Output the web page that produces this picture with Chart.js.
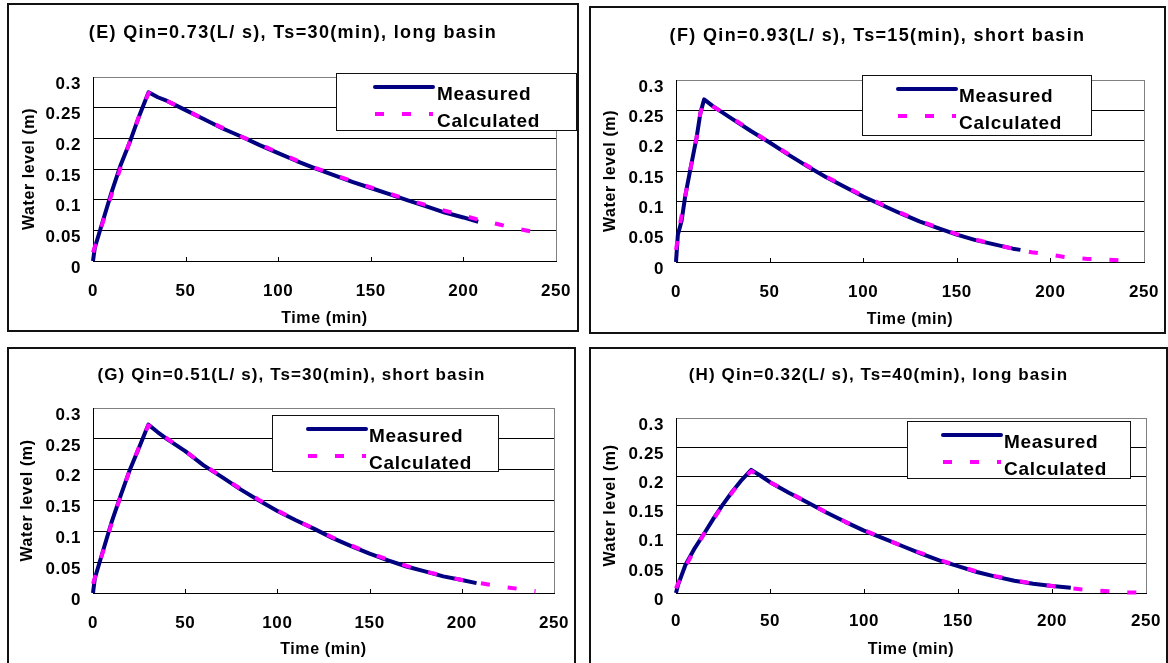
<!DOCTYPE html>
<html>
<head>
<meta charset="utf-8">
<title>Water level: measured vs calculated</title>
<script src="https://cdn.jsdelivr.net/npm/chart.js@4.4.1/dist/chart.umd.min.js"></script>
<style>
  body { margin: 0; background: #fff; width: 1168px; height: 663px; overflow: hidden; position: relative; }
  .panel { position: absolute; box-sizing: border-box; border: 2px solid #111; background: #fff; }
  .panel canvas { display: block; }
</style>
</head>
<body>
<div class="panel" style="left:7px;top:3px;width:572px;height:329px"><canvas id="chartE"></canvas></div>
<div class="panel" style="left:589px;top:6px;width:577px;height:328px"><canvas id="chartF"></canvas></div>
<div class="panel" style="left:7px;top:347px;width:569px;height:318px"><canvas id="chartG"></canvas></div>
<div class="panel" style="left:589px;top:347px;width:579px;height:318px"><canvas id="chartH"></canvas></div>

<script>
const xTicks = [0, 50, 100, 150, 200, 250];
const yTicks = [0, 0.05, 0.1, 0.15, 0.2, 0.25, 0.3];
const yTickLabels = ['0', '0.05', '0.1', '0.15', '0.2', '0.25', '0.3'];
const seriesNames = ['Measured', 'Calculated'];
const xTitle = 'Time (min)';
const yTitle = 'Water level (m)';

// (E) long basin, Qin = 0.73 L/s, Ts = 30 min
const titleE = '(E) Qin=0.73(L/ s), Ts=30(min), long basin';
const timeMeasE = [0, 1, 5, 10, 15, 20, 25, 30, 35, 40, 50, 60, 70, 80, 90, 100, 110, 120, 130, 140, 150, 160, 170, 180, 190, 200, 208];
const levelMeasE = [0, 0.022, 0.062, 0.112, 0.157, 0.195, 0.237, 0.275, 0.267, 0.261, 0.246, 0.231, 0.216, 0.203, 0.189, 0.176, 0.163, 0.151, 0.140, 0.129, 0.119, 0.109, 0.099, 0.089, 0.079, 0.071, 0.064];
const timeCalcE = [0, 5, 10, 15, 20, 25, 30, 40, 50, 60, 70, 80, 90, 100, 110, 120, 130, 140, 150, 160, 170, 180, 190, 200, 210, 220, 230, 240];
const levelCalcE = [0.014, 0.060, 0.108, 0.153, 0.196, 0.237, 0.274, 0.261, 0.246, 0.231, 0.217, 0.203, 0.190, 0.177, 0.164, 0.152, 0.141, 0.130, 0.120, 0.110, 0.100, 0.091, 0.082, 0.074, 0.066, 0.059, 0.052, 0.046];

// (F) short basin, Qin = 0.93 L/s, Ts = 15 min
const titleF = '(F) Qin=0.93(L/ s), Ts=15(min), short basin';
const timeMeasF = [0, 1, 3, 5, 8, 11, 13, 15, 20, 30, 40, 50, 60, 70, 80, 90, 100, 110, 120, 130, 140, 150, 160, 170, 180, 184];
const levelMeasF = [0, 0.045, 0.068, 0.110, 0.158, 0.205, 0.245, 0.268, 0.256, 0.236, 0.216, 0.197, 0.177, 0.158, 0.140, 0.124, 0.108, 0.094, 0.080, 0.067, 0.056, 0.045, 0.036, 0.029, 0.022, 0.020];
const timeCalcF = [0, 2, 5, 8, 11, 13, 15, 20, 30, 40, 50, 60, 70, 80, 90, 100, 110, 120, 130, 140, 150, 160, 170, 180, 190, 200, 210, 220, 230, 240, 245];
const levelCalcF = [0.020, 0.060, 0.110, 0.158, 0.205, 0.245, 0.266, 0.256, 0.237, 0.217, 0.197, 0.178, 0.159, 0.141, 0.125, 0.109, 0.095, 0.081, 0.068, 0.057, 0.046, 0.037, 0.029, 0.022, 0.016, 0.012, 0.007, 0.005, 0.004, 0.002, 0.001];

// (G) short basin, Qin = 0.51 L/s, Ts = 30 min
const titleG = '(G) Qin=0.51(L/ s), Ts=30(min), short basin';
const timeMeasG = [0, 1, 5, 10, 15, 20, 25, 30, 35, 40, 50, 60, 70, 80, 90, 100, 110, 120, 130, 140, 150, 160, 170, 180, 190, 200, 208];
const levelMeasG = [0, 0.024, 0.064, 0.114, 0.158, 0.200, 0.236, 0.273, 0.261, 0.250, 0.230, 0.207, 0.188, 0.168, 0.150, 0.133, 0.118, 0.104, 0.089, 0.076, 0.064, 0.053, 0.043, 0.035, 0.027, 0.021, 0.016];
const timeCalcG = [0, 5, 10, 15, 20, 25, 30, 40, 50, 60, 70, 80, 90, 100, 110, 120, 130, 140, 150, 160, 170, 180, 190, 200, 210, 220, 230, 240];
const levelCalcG = [0.015, 0.063, 0.112, 0.157, 0.200, 0.237, 0.272, 0.251, 0.230, 0.208, 0.188, 0.169, 0.151, 0.134, 0.118, 0.104, 0.090, 0.077, 0.065, 0.054, 0.044, 0.035, 0.028, 0.021, 0.016, 0.011, 0.007, 0.003];

// (H) long basin, Qin = 0.32 L/s, Ts = 40 min
const titleH = '(H) Qin=0.32(L/ s), Ts=40(min), long basin';
const timeMeasH = [0, 1, 5, 10, 15, 20, 25, 30, 35, 40, 45, 50, 60, 70, 80, 90, 100, 110, 120, 130, 140, 150, 160, 170, 180, 190, 200, 210];
const levelMeasH = [0, 0.013, 0.048, 0.077, 0.102, 0.128, 0.152, 0.174, 0.194, 0.211, 0.201, 0.190, 0.172, 0.155, 0.138, 0.122, 0.107, 0.094, 0.081, 0.068, 0.056, 0.046, 0.036, 0.028, 0.021, 0.016, 0.012, 0.009];
const timeCalcH = [0, 5, 10, 15, 20, 25, 30, 35, 40, 50, 60, 70, 80, 90, 100, 110, 120, 130, 140, 150, 160, 170, 180, 190, 200, 210, 220, 230, 240, 245];
const levelCalcH = [0.008, 0.045, 0.075, 0.102, 0.127, 0.151, 0.173, 0.193, 0.209, 0.190, 0.173, 0.155, 0.138, 0.122, 0.108, 0.094, 0.081, 0.069, 0.057, 0.046, 0.037, 0.029, 0.022, 0.016, 0.012, 0.008, 0.005, 0.003, 0.001, 0.001];

const FONT = '"Liberation Sans", Arial, sans-serif';
Chart.defaults.font.family = FONT;
Chart.defaults.color = '#000';

// layout of each panel inside its canvas
const panels = [
  { id: 'chartE', w: 568, h: 325, yW: 84, padTop: 72, padRight: 21, xH: 69, xPad: 20, xTitlePad: 1.4, yTitlePad: 10.9,
    title: titleE, titleY: 28, titleSize: 18, titleSpacing: 1.35,
    legend: { x: 327, y: 68, w: 241, h: 58, sx: 39, tx: 101 },
    tMeas: timeMeasE, vMeas: levelMeasE, tCalc: timeCalcE, vCalc: levelCalcE },
  { id: 'chartF', w: 573, h: 324, yW: 85, padTop: 72, padRight: 20, xH: 70, xPad: 20, xTitlePad: 2.4, yTitlePad: 10.4,
    title: titleF, titleY: 28, titleSize: 18, titleSpacing: 1.35,
    legend: { x: 271, y: 67, w: 230, h: 61, sx: 36, tx: 97 },
    tMeas: timeMeasF, vMeas: levelMeasF, tCalc: timeCalcF, vCalc: levelCalcF },
  { id: 'chartG', w: 565, h: 314, yW: 84, padTop: 59, padRight: 20, xH: 70, xPad: 20, xTitlePad: 3.4, yTitlePad: 9.4,
    title: titleG, titleY: 26, titleSize: 17, titleSpacing: 1.1,
    legend: { x: 263, y: 66, w: 227, h: 57, sx: 36, tx: 97 },
    tMeas: timeMeasG, vMeas: levelMeasG, tCalc: timeCalcG, vCalc: levelCalcG },
  { id: 'chartH', w: 575, h: 314, yW: 85, padTop: 69, padRight: 20, xH: 70, xPad: 18.5, xTitlePad: 3.4, yTitlePad: 10.4,
    title: titleH, titleY: 26, titleSize: 17, titleSpacing: 1.1,
    legend: { x: 316, y: 72, w: 224, h: 58, sx: 36, tx: 97 },
    tMeas: timeMeasH, vMeas: levelMeasH, tCalc: timeCalcH, vCalc: levelCalcH }
];

const toPoints = (ts, vs) => ts.map((t, i) => ({ x: t, y: vs[i] }));

// heading, legend box, grey right frame and the little inside ticks on the time axis
const panelDeco = {
  id: 'panelDeco',
  beforeDraw(chart) {
    chart.ctx.letterSpacing = '0.6px';
  },
  afterDraw(chart, args, opts) {
    const { ctx, chartArea: a } = chart;
    const xs = chart.scales.x;
    ctx.save();
    ctx.lineWidth = 1;
    ctx.strokeStyle = '#808080';
    const rx = Math.round(a.right) + 0.5;
    ctx.beginPath();
    ctx.moveTo(rx, Math.round(a.top));
    ctx.lineTo(rx, Math.round(a.bottom));
    ctx.stroke();

    ctx.strokeStyle = '#000';
    xTicks.slice(1, -1).forEach(v => {
      const px = Math.round(xs.getPixelForValue(v)) + 0.5;
      ctx.beginPath();
      ctx.moveTo(px, a.bottom);
      ctx.lineTo(px, a.bottom - 4);
      ctx.stroke();
    });

    ctx.fillStyle = '#000';
    ctx.font = `bold ${opts.titleSize}px ${FONT}`;
    ctx.letterSpacing = opts.titleSpacing + 'px';
    ctx.textAlign = 'center';
    ctx.textBaseline = 'middle';
    ctx.fillText(opts.title, chart.width / 2, opts.titleY);

    const L = opts.legend;
    ctx.fillStyle = '#fff';
    ctx.fillRect(L.x, L.y, L.w, L.h);
    ctx.strokeStyle = '#111';
    ctx.strokeRect(L.x + 0.5, L.y + 0.5, L.w - 1, L.h - 1);
    ctx.font = `bold 19px ${FONT}`;
    ctx.letterSpacing = '0.7px';
    ctx.textAlign = 'left';
    chart.data.datasets.forEach((ds, i) => {
      const ly = L.y + 14 + i * 27;
      ctx.strokeStyle = ds.borderColor;
      ctx.lineWidth = ds.borderWidth;
      ctx.setLineDash(ds.borderDash || []);
      ctx.lineCap = ds.borderDash ? 'butt' : 'round';
      ctx.beginPath();
      ctx.moveTo(L.x + L.sx, ly);
      ctx.lineTo(L.x + L.sx + 58, ly);
      ctx.stroke();
      ctx.setLineDash([]);
      ctx.fillStyle = '#000';
      ctx.fillText(ds.label, L.x + L.tx, ly + 8);
    });
    ctx.restore();
  }
};

function buildChart(p) {
  const canvas = document.getElementById(p.id);
  canvas.width = p.w;
  canvas.height = p.h;
  new Chart(canvas, {
    type: 'line',
    data: {
      datasets: [
        { label: seriesNames[0], data: toPoints(p.tMeas, p.vMeas), borderColor: '#000080', borderWidth: 4, order: 1 },
        { label: seriesNames[1], data: toPoints(p.tCalc, p.vCalc), borderColor: '#ff00ff', borderWidth: 4,
          borderDash: [9, 18], borderCapStyle: 'butt', order: 0 }
      ]
    },
    options: {
      responsive: false,
      devicePixelRatio: 1,
      animation: false,
      events: [],
      clip: false,
      elements: {
        point: { radius: 0 },
        line: { tension: 0, borderJoinStyle: 'round', fill: false }
      },
      layout: { padding: { top: p.padTop, right: p.padRight, bottom: 0, left: 0 } },
      plugins: {
        legend: { display: false },
        tooltip: { enabled: false },
        panelDeco: { title: p.title, titleY: p.titleY, titleSize: p.titleSize, titleSpacing: p.titleSpacing, legend: p.legend }
      },
      scales: {
        x: {
          type: 'linear',
          min: 0,
          max: 250,
          afterBuildTicks: s => { s.ticks = xTicks.map(v => ({ value: v })); },
          afterFit: s => { s.height = p.xH; s.paddingLeft = 0; s.paddingRight = 0; },
          grid: { display: false, drawTicks: false },
          border: { display: true, color: '#000', width: 1 },
          ticks: { padding: p.xPad, maxRotation: 0, font: { size: 17, weight: 'bold' }, color: '#000' },
          title: { display: true, text: xTitle, font: { size: 16, weight: 'bold' }, color: '#000',
                   padding: { top: 0, bottom: p.xTitlePad } }
        },
        y: {
          min: 0,
          max: 0.3,
          afterBuildTicks: s => { s.ticks = yTicks.map(v => ({ value: v })); },
          afterFit: s => { s.width = p.yW; },
          grid: { drawTicks: false, lineWidth: 1, color: c => (c.tick && c.tick.value === 0.3 ? '#808080' : '#000') },
          border: { display: true, color: '#000', width: 1 },
          ticks: { padding: 12, labelOffset: 7, font: { size: 17, weight: 'bold' }, color: '#000',
                   callback: (v, i) => yTickLabels[i] },
          title: { display: true, text: yTitle, font: { size: 16, weight: 'bold' }, color: '#000',
                   padding: { top: p.yTitlePad, bottom: 0 } }
        }
      }
    },
    plugins: [panelDeco]
  });
}

panels.forEach(buildChart);
</script>
</body>
</html>
